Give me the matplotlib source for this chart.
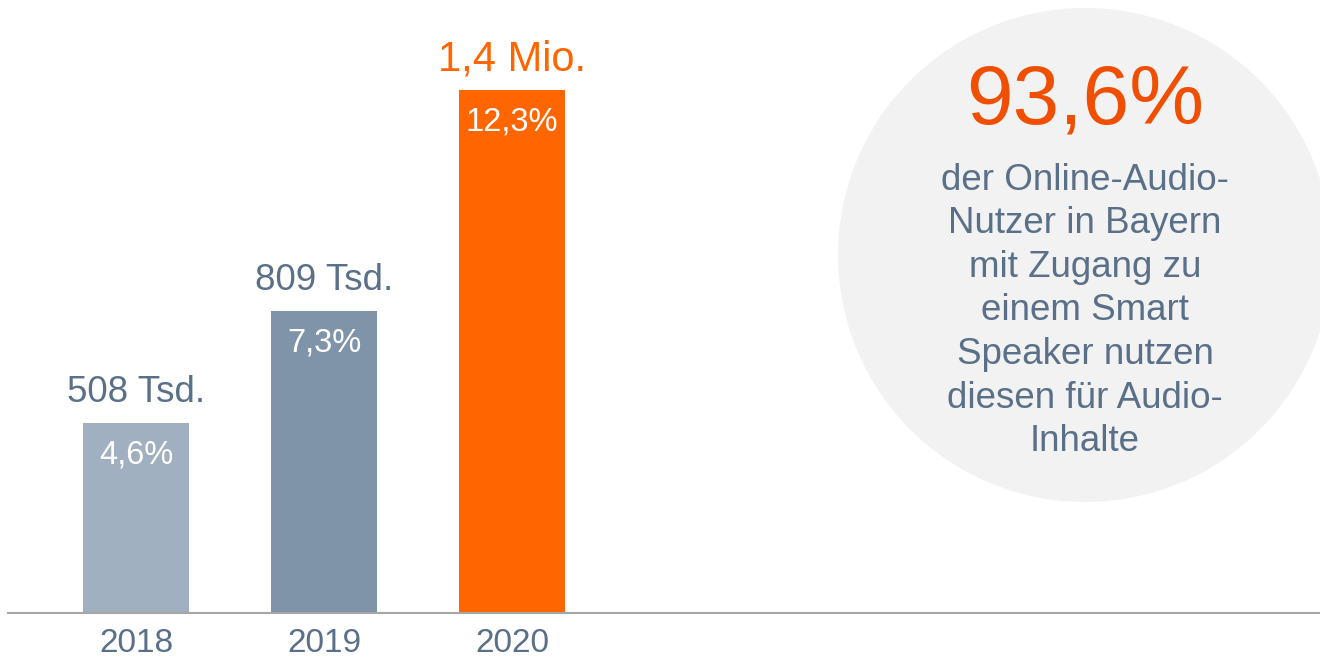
import matplotlib.pyplot as plt
from matplotlib.patches import Circle

plt.rcParams['font.family'] = ['Liberation Sans', 'DejaVu Sans']

# Smart-speaker users in Bavaria (thousands)
years = ['2018', '2019', '2020']
users = [508, 809, 1400]
user_labels = ['508 Tsd.', '809 Tsd.', '1,4 Mio.']
share_labels = ['4,6%', '7,3%', '12,3%']
bar_colors = ['#a0b0c0', '#7f94a9', '#ff6600']
top_label_colors = ['#5a7088', '#5a7088', '#ff6600']
top_label_sizes = [26.5, 26.5, 30]

highlight = '93,6%'
highlight_text = ('der Online-Audio-\nNutzer in Bayern\nmit Zugang zu\neinem Smart\n'
                  'Speaker nutzen\ndiesen für Audio-\nInhalte')

slate = '#5a7088'

fig = plt.figure(figsize=(13.2, 6.57), dpi=100)
fig.set_facecolor('white')

# background layer in pixel units for the grey circle
bg = fig.add_axes([0, 0, 1, 1])
bg.set_xlim(0, 1320)
bg.set_ylim(657, 0)
bg.axis('off')
bg.add_patch(Circle((1085, 255), 247, color='#f2f2f2', lw=0))
bg.text(1085, 102, highlight, color='#f04e00', fontsize=60.5,
        ha='center', va='center')
bg.text(1085, 311, highlight_text, color=slate, fontsize=26.5,
        ha='center', va='center', linespacing=1.32)

# bar chart
ax = fig.add_axes([8 / 1320, 44 / 657, 1 - 8 / 1320, 613 / 657])
ax.patch.set_alpha(0)
pos = range(len(years))
bars = ax.bar(pos, users, width=0.564, color=bar_colors, zorder=2)
ax.set_xlim(-0.681, 6.298)
ax.set_ylim(0, 1640)

for b, top, share, c, fs in zip(bars, user_labels, share_labels,
                                top_label_colors, top_label_sizes):
    x = b.get_x() + b.get_width() / 2
    h = b.get_height()
    ax.annotate(top, (x, h), xytext=(0, 22), textcoords='offset points',
                ha='center', va='center', fontsize=fs, color=c)
    ax.annotate(share, (x, h), xytext=(0, -23), textcoords='offset points',
                ha='center', va='center', fontsize=23.5, color='white')

ax.set_xticks(list(pos))
ax.set_xticklabels(years, fontsize=24, color=slate)
ax.tick_params(axis='x', length=0, pad=11)
ax.set_yticks([])
for s in ['top', 'right', 'left']:
    ax.spines[s].set_visible(False)
ax.spines['bottom'].set_color('#a6a6a6')
ax.spines['bottom'].set_linewidth(1.5)
ax.spines['bottom'].set_zorder(3)

fig.savefig('out.png', dpi=100)
